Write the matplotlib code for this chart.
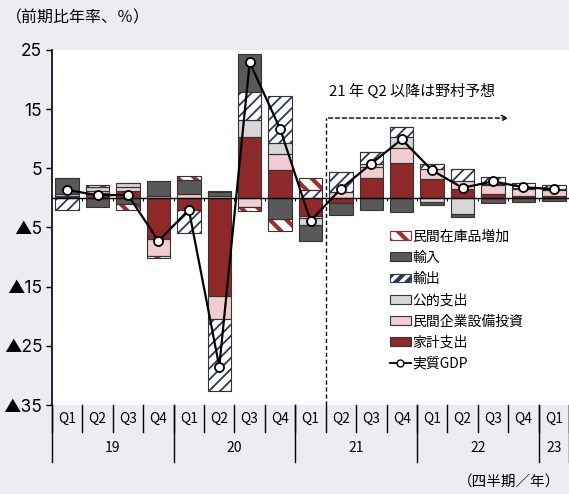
import matplotlib
matplotlib.use("Agg")
import matplotlib.pyplot as plt
import matplotlib.transforms as mtransforms
from matplotlib.patches import Patch
from matplotlib.lines import Line2D
import numpy as np

plt.rcParams["font.family"] = ["Noto Sans CJK JP", "DejaVu Sans"]

# quarters 2019Q1 .. 2023Q1
quarters = ["Q1", "Q2", "Q3", "Q4"] * 4 + ["Q1"]
years = ["19", "20", "21", "22", "23"]
year_spans = [4, 4, 4, 4, 1]

# contributions (%pt, annualized q/q)
household = [0.1, 0.9, 1.25, -7.0, -2.1, -16.5, 10.3, 4.7, -3.0, -0.85, 3.4, 5.9, 3.25, 1.5, 0.7, 0.4, 0.4]
capex = [0.15, 0.3, 0.55, -2.8, 0.7, -3.95, -1.5, 2.7, -0.45, 0.95, 1.85, 2.6, 1.7, 1.4, 1.4, 1.1, 0.9]
public = [0.4, 0.6, 0.7, 0.3, 0.0, 0.4, 2.8, 1.8, -1.1, 0.1, 0.55, 1.85, -0.7, -2.8, 0.3, 0.2, 0.2]
exports = [-2.1, 0.0, 0.0, 0.1, -3.8, -12.1, 4.8, 8.05, 1.4, 3.4, 2.0, 1.6, 0.8, 2.0, 1.1, 0.8, 0.6]
imports = [2.7, -1.6, -0.95, 2.4, 2.4, 0.6, 6.4, -3.5, -2.8, -2.1, -2.0, -2.3, -0.45, -0.4, -0.85, -0.7, -0.6]
inventory = [0.1, 0.3, -1.1, -0.3, 0.6, 0.2, -0.7, -2.1, 1.9, 0.0, 0.0, 0.0, 0.0, 0.0, 0.0, 0.0, 0.0]
real_gdp = [1.35, 0.45, 0.5, -7.3, -2.0, -28.5, 22.9, 11.7, -3.9, 1.55, 5.8, 9.9, 4.65, 1.7, 2.8, 1.8, 1.5]

yticks = [25, 15, 5, -5, -15, -25, -35]
ytick_labels = ["25", "15", "5", "▲5", "▲15", "▲25", "▲35"]

BG = "#EEEBF3"
EDGE = "#333333"

series = [
    ("家計支出", household, dict(color="#8F2929")),
    ("民間企業設備投資", capex, dict(color="#F0CDD0")),
    ("公的支出", public, dict(color="#D7D7D7")),
    ("輸出", exports, dict(color="white", hatch="///", hcolor="#2B3A5A", hlw=1.3)),
    ("輸入", imports, dict(color="#595959")),
    ("民間在庫品増加", inventory, dict(color="white", hatch="\\\\", hcolor="#A52A2A", hlw=3.0)),
]

fig = plt.figure(figsize=(5.69, 4.94), dpi=100, facecolor=BG)
ax = fig.add_axes([52 / 569, 1 - 405 / 494, 1 - 52 / 569, 355 / 494])

x = np.arange(len(quarters))
width = 0.77
pos_base = np.zeros(len(x))
neg_base = np.zeros(len(x))

handles = []
for name, vals, st in series:
    v = np.array(vals)
    bottom = np.where(v >= 0, pos_base, neg_base)
    if "hatch" in st:
        plt.rcParams["hatch.linewidth"] = st["hlw"]
        bars = ax.bar(x, v, width, bottom=bottom, color="white", edgecolor=st["hcolor"],
                      hatch=st["hatch"], linewidth=0, zorder=2)
        for b in bars:
            if hasattr(b, "set_hatch_linewidth"):
                b.set_hatch_linewidth(st["hlw"])
        h = Patch(facecolor="white", edgecolor=st["hcolor"], hatch=st["hatch"], linewidth=0.8)
        if hasattr(h, "set_hatch_linewidth"):
            h.set_hatch_linewidth(st["hlw"])
    else:
        ax.bar(x, v, width, bottom=bottom, color=st["color"], linewidth=0, zorder=2)
        h = Patch(facecolor=st["color"], edgecolor=EDGE, linewidth=0.8)
    ax.bar(x, v, width, bottom=bottom, fill=False, edgecolor=EDGE, linewidth=0.8, zorder=3)
    pos_base = pos_base + np.where(v >= 0, v, 0)
    neg_base = neg_base + np.where(v < 0, v, 0)
    handles.append((name, h))

ax.plot(x, real_gdp, color="black", linewidth=1.6, marker="o", markersize=6.5,
        markerfacecolor="white", markeredgecolor="black", markeredgewidth=1.3, zorder=5)

ax.axhline(0, color="black", linewidth=1.0, zorder=4)
ax.vlines(x[:-1] + 0.5, -0.45, 0, color="black", linewidth=0.8, zorder=4)

ax.set_xlim(-0.5, len(x) - 0.5)
ax.set_ylim(-35, 25)
ax.set_yticks(yticks)
ax.set_yticklabels(ytick_labels, fontsize=12.5, family=["Inter", "DejaVu Sans"])
ax.tick_params(axis="y", direction="out", length=4, width=1, pad=3)
ax.set_xticks([])
for s in ["top", "right", "bottom"]:
    ax.spines[s].set_visible(False)
ax.spines["left"].set_linewidth(1.2)

# forecast marker
fc_x = 8.5
fc_y = 13.5
ax.plot([fc_x, fc_x], [-35, fc_y], color="black", linestyle=(0, (3, 2)), linewidth=1, zorder=1)
ax.annotate("", xy=(14.6, fc_y), xytext=(fc_x, fc_y),
            arrowprops=dict(arrowstyle="->", linestyle=(0, (3, 2)), color="black", lw=1))
ax.text(8.6, 18.0, "21 年 Q2 以降は野村予想", fontsize=10.8, style="italic", va="center", ha="left")

# x axis labels below the plot
trans = mtransforms.blended_transform_factory(ax.transData, ax.transAxes)
for i, q in enumerate(quarters):
    ax.text(i, -0.038, q, transform=trans, ha="center", va="center", fontsize=10, clip_on=False)
for i in range(len(x) + 1):
    ax.plot([i - 0.5, i - 0.5], [0, -0.075], transform=trans, color="black", linewidth=1, clip_on=False)
start = 0
for yr, span in zip(years, year_spans):
    ax.text(start + span / 2 - 0.5, -0.12, yr, transform=trans, ha="center", va="center",
            fontsize=10, clip_on=False)
    ax.plot([start - 0.5, start - 0.5], [0, -0.16], transform=trans, color="black", linewidth=1, clip_on=False)
    start += span
ax.plot([start - 0.5, start - 0.5], [0, -0.16], transform=trans, color="black", linewidth=1, clip_on=False)

fig.text(6 / 569, 1 - 18 / 494, "（前期比年率、％）", fontsize=11.5, va="center", ha="left")
fig.text(560 / 569, 1 - 482 / 494, "（四半期／年）", fontsize=10.5, va="center", ha="right")

# legend: reversed stack order then GDP line
leg_handles = [h for _, h in handles][::-1]
leg_labels = [n for n, _ in handles][::-1]
leg_handles.append(Line2D([], [], color="black", marker="o", markerfacecolor="white",
                          markeredgecolor="black", markersize=5, linewidth=1.3))
leg_labels.append("実質GDP")
ax.legend(leg_handles, leg_labels, loc="upper left", bbox_to_anchor=(0.643, 0.51),
          frameon=False, fontsize=10, handlelength=1.5, handleheight=0.6,
          handletextpad=0.1, labelspacing=0.52, borderaxespad=0)

fig.savefig("out.png", dpi=100, facecolor=BG)
